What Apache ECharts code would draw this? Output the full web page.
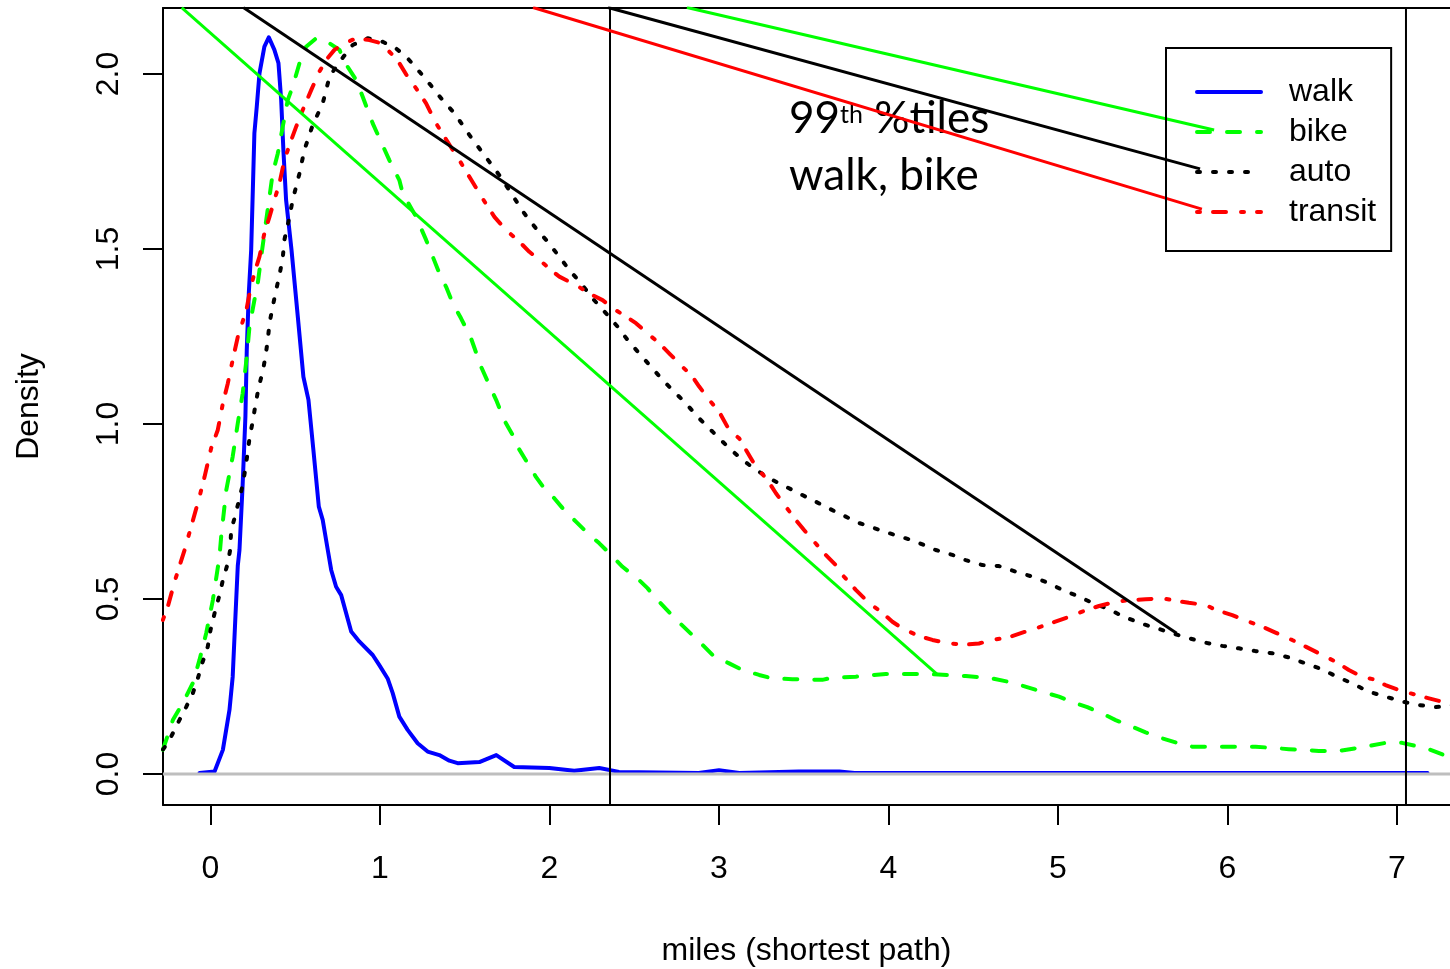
<!DOCTYPE html>
<html>
<head>
<meta charset="utf-8">
<title>Density of trip distance by mode</title>
<script src="https://cdn.jsdelivr.net/npm/echarts@6/dist/echarts.min.js"></script>
<style>
  html, body { margin: 0; padding: 0; background: #fff; }
  #chart { width: 1450px; height: 969px; }
</style>
</head>
<body>
<div id="chart"></div>
<script>
// axis ranges and ticks
const xRange = [-0.2802, 7.3127];
const yRange = [-0.0886, 2.1886];
const xTicks = [0, 1, 2, 3, 4, 5, 6, 7];
const yTicks = [0, 0.5, 1, 1.5, 2];

// density curves, [miles, density]
const walk = [[-0.065,0.003],[0.024,0.007],[0.073,0.069],[0.112,0.183],[0.131,0.278],[0.147,0.449],[0.161,0.595],[0.171,0.64],[0.19,0.83],[0.206,1.021],[0.214,1.211],[0.226,1.374],[0.24,1.497],[0.259,1.831],[0.273,1.907],[0.289,2.002],[0.318,2.078],[0.344,2.105],[0.377,2.069],[0.401,2.031],[0.417,1.926],[0.43,1.783],[0.446,1.64],[0.478,1.497],[0.515,1.307],[0.548,1.135],[0.578,1.069],[0.607,0.926],[0.639,0.764],[0.662,0.726],[0.692,0.64],[0.712,0.583],[0.741,0.535],[0.771,0.511],[0.83,0.407],[0.879,0.378],[0.957,0.34],[0.996,0.311],[1.045,0.273],[1.075,0.231],[1.114,0.164],[1.163,0.126],[1.222,0.088],[1.281,0.064],[1.35,0.054],[1.409,0.038],[1.458,0.031],[1.586,0.034],[1.686,0.054],[1.792,0.02],[1.999,0.017],[2.146,0.009],[2.294,0.017],[2.41,0.006],[2.88,0.003],[3.0,0.011],[3.12,0.003],[3.47,0.007],[3.71,0.007],[3.8,0.003],[7.18,0.003]];
const bike = [[-0.281,0.069],[-0.222,0.154],[-0.163,0.203],[-0.104,0.26],[-0.065,0.326],[-0.025,0.403],[0.014,0.497],[0.053,0.621],[0.063,0.678],[0.093,0.811],[0.131,0.907],[0.161,1.002],[0.19,1.088],[0.214,1.192],[0.23,1.278],[0.259,1.354],[0.279,1.402],[0.299,1.478],[0.367,1.716],[0.397,1.773],[0.426,1.849],[0.456,1.926],[0.485,1.964],[0.525,2.031],[0.564,2.078],[0.623,2.102],[0.672,2.097],[0.761,2.069],[0.79,2.035],[0.859,1.983],[0.898,1.935],[0.957,1.859],[1.055,1.754],[1.114,1.697],[1.134,1.659],[1.213,1.592],[1.272,1.526],[1.35,1.431],[1.39,1.392],[1.429,1.345],[1.478,1.302],[1.537,1.245],[1.596,1.164],[1.645,1.111],[1.685,1.069],[1.733,1.011],[1.782,0.969],[1.812,0.935],[1.871,0.888],[1.92,0.849],[1.969,0.816],[2.028,0.788],[2.087,0.754],[2.156,0.721],[2.225,0.688],[2.294,0.659],[2.353,0.631],[2.431,0.592],[2.529,0.554],[2.578,0.531],[2.628,0.502],[2.75,0.44],[2.903,0.369],[2.962,0.34],[3.06,0.316],[3.139,0.297],[3.237,0.283],[3.315,0.273],[3.433,0.271],[3.61,0.269],[3.669,0.275],[3.807,0.278],[3.984,0.286],[4.22,0.286],[4.456,0.28],[4.613,0.273],[4.731,0.261],[4.907,0.235],[5.006,0.221],[5.104,0.202],[5.173,0.191],[5.261,0.173],[5.34,0.154],[5.438,0.135],[5.517,0.119],[5.615,0.102],[5.703,0.089],[5.792,0.078],[5.989,0.078],[6.166,0.078],[6.362,0.071],[6.539,0.066],[6.657,0.066],[6.814,0.078],[6.932,0.089],[7.03,0.089],[7.129,0.078],[7.198,0.069],[7.305,0.049],[7.37,0.04]];
const auto = [[-0.28,0.07],[-0.242,0.097],[-0.193,0.145],[-0.143,0.192],[-0.104,0.231],[-0.075,0.273],[-0.049,0.316],[-0.016,0.364],[0,0.411],[0.024,0.459],[0.053,0.511],[0.073,0.554],[0.102,0.602],[0.116,0.64],[0.122,0.697],[0.147,0.74],[0.171,0.788],[0.19,0.826],[0.206,0.873],[0.22,0.921],[0.23,0.959],[0.249,1.007],[0.265,1.054],[0.285,1.107],[0.308,1.149],[0.324,1.192],[0.338,1.24],[0.348,1.288],[0.367,1.335],[0.383,1.373],[0.407,1.426],[0.426,1.473],[0.436,1.526],[0.466,1.592],[0.485,1.64],[0.525,1.716],[0.554,1.783],[0.603,1.854],[0.662,1.916],[0.702,1.992],[0.761,2.035],[0.839,2.083],[0.927,2.102],[1.016,2.092],[1.095,2.073],[1.163,2.045],[1.232,2.007],[1.291,1.973],[1.36,1.931],[1.439,1.888],[1.527,1.826],[1.704,1.711],[1.851,1.602],[1.92,1.559],[1.989,1.521],[2.058,1.478],[2.117,1.44],[2.186,1.402],[2.254,1.359],[2.343,1.311],[2.402,1.278],[2.461,1.24],[2.529,1.202],[2.598,1.164],[2.667,1.126],[2.736,1.092],[2.805,1.059],[2.873,1.021],[2.962,0.978],[3.06,0.931],[3.139,0.897],[3.218,0.869],[3.296,0.845],[3.394,0.821],[3.492,0.797],[3.591,0.773],[3.689,0.749],[3.827,0.717],[3.998,0.689],[4.151,0.666],[4.279,0.64],[4.377,0.626],[4.456,0.611],[4.554,0.597],[4.652,0.594],[4.751,0.578],[4.848,0.564],[4.947,0.545],[5.025,0.526],[5.124,0.507],[5.202,0.489],[5.301,0.471],[5.379,0.451],[5.497,0.429],[5.585,0.416],[5.674,0.402],[5.772,0.388],[5.871,0.375],[5.969,0.366],[6.067,0.359],[6.166,0.351],[6.264,0.345],[6.362,0.333],[6.461,0.316],[6.558,0.299],[6.637,0.28],[6.735,0.259],[6.834,0.235],[6.932,0.221],[7.03,0.207],[7.129,0.197],[7.227,0.191],[7.305,0.194],[7.37,0.2]];
const transit = [[-0.281,0.44],[-0.252,0.478],[-0.212,0.549],[-0.153,0.64],[-0.114,0.707],[-0.065,0.792],[-0.035,0.849],[0.004,0.931],[0.043,0.983],[0.073,1.059],[0.102,1.116],[0.131,1.183],[0.161,1.249],[0.187,1.288],[0.214,1.331],[0.234,1.383],[0.259,1.431],[0.289,1.478],[0.318,1.545],[0.348,1.592],[0.377,1.64],[0.407,1.688],[0.436,1.754],[0.476,1.811],[0.505,1.849],[0.544,1.897],[0.594,1.954],[0.643,2.007],[0.682,2.04],[0.731,2.069],[0.79,2.088],[0.859,2.102],[0.938,2.097],[1.006,2.088],[1.075,2.054],[1.114,2.031],[1.163,1.992],[1.213,1.959],[1.272,1.916],[1.331,1.859],[1.38,1.821],[1.429,1.783],[1.468,1.754],[1.539,1.697],[1.635,1.621],[1.675,1.592],[1.744,1.554],[1.822,1.521],[1.881,1.492],[1.94,1.469],[2.009,1.44],[2.058,1.421],[2.156,1.397],[2.235,1.373],[2.313,1.354],[2.372,1.331],[2.451,1.307],[2.51,1.288],[2.578,1.259],[2.647,1.231],[2.706,1.202],[2.765,1.173],[2.844,1.135],[2.883,1.107],[2.942,1.069],[3.001,1.035],[3.06,0.983],[3.119,0.959],[3.159,0.926],[3.218,0.878],[3.286,0.84],[3.336,0.802],[3.394,0.764],[3.453,0.726],[3.502,0.697],[3.561,0.664],[3.63,0.626],[3.689,0.597],[3.728,0.569],[3.807,0.526],[3.886,0.488],[3.955,0.464],[4.023,0.435],[4.082,0.416],[4.18,0.394],[4.259,0.383],[4.338,0.375],[4.436,0.369],[4.534,0.373],[4.613,0.383],[4.711,0.391],[4.81,0.407],[4.869,0.416],[4.966,0.432],[5.065,0.449],[5.143,0.464],[5.242,0.48],[5.34,0.492],[5.419,0.497],[5.517,0.499],[5.615,0.502],[5.674,0.497],[5.772,0.489],[5.871,0.483],[5.93,0.469],[6.028,0.454],[6.126,0.435],[6.205,0.421],[6.283,0.404],[6.381,0.383],[6.461,0.364],[6.539,0.345],[6.637,0.321],[6.716,0.297],[6.794,0.278],[6.874,0.269],[6.932,0.254],[7.011,0.24],[7.111,0.226],[7.189,0.216],[7.305,0.202],[7.37,0.195]];

// vertical marks (99th percentiles, walk and bike)
const percentiles99 = [2.357, 7.053];

// pointer segments from the note area down to the curves / legend
const pointerGreenLong = [[-0.17, 2.19], [4.284, 0.286]];
const pointerBlackLong = [[0.194, 2.19], [5.70, 0.402]];
const pointerGreenTop = [[2.811, 2.19], [5.921, 1.840]];
const pointerBlackTop = [[2.345, 2.19], [5.838, 1.729]];
const pointerRedTop = [[1.903, 2.19], [5.849, 1.614]];

const FONT = "'Liberation Sans', Arial, sans-serif";
const NOTE_FONT = "Lato, 'Open Sans', sans-serif";

// a curve series
function curve(name, data, color, dash, width) {
  return {
    name: name,
    type: 'line',
    data: data,
    symbol: 'none',
    showSymbol: false,
    smooth: false,
    clip: true,
    animation: false,
    silent: true,
    lineStyle: { color: color, width: width || 4, type: dash || 'solid', cap: 'round', join: 'round' },
    itemStyle: { color: color }
  };
}

// a straight segment series (not in legend)
function segment(id, data, color, width) {
  return {
    id: id,
    type: 'line',
    data: data,
    symbol: 'none',
    showSymbol: false,
    clip: true,
    animation: false,
    silent: true,
    lineStyle: { color: color, width: width, type: 'solid' }
  };
}

// outward R-style ticks (a fresh object for each axis)
function ticks(values) {
  return { show: true, inside: false, length: 20, customValues: values, lineStyle: { color: '#000', width: 2 } };
}

// plot box edge (a fresh object for each axis)
function boxLine() {
  return { show: true, onZero: false, lineStyle: { color: '#000', width: 2 } };
}

const chart = echarts.init(document.getElementById('chart'), null, { renderer: 'canvas' });

const series = [
  curve('walk', walk, '#0000ff'),
  curve('bike', bike, '#00ff00', [13, 17]),
  curve('auto', auto, '#000000', [3, 13]),
  curve('transit', transit, '#ff0000', [3, 13, 13, 15]),
  segment('zero', [[xRange[0], 0], [xRange[1], 0]], '#bebebe', 3)
];
percentiles99.forEach(function (v, i) {
  series.push(segment('p99_' + i, [[v, yRange[0] - 0.1], [v, yRange[1] + 0.1]], '#000', 2));
});
series.push(segment('pGreenLong', pointerGreenLong, '#00ff00', 3));
series.push(segment('pBlackLong', pointerBlackLong, '#000', 3));
series.push(segment('pGreenTop', pointerGreenTop, '#00ff00', 3));
series.push(segment('pBlackTop', pointerBlackTop, '#000', 3));
series.push(segment('pRedTop', pointerRedTop, '#ff0000', 3));

const option = {
  backgroundColor: '#fff',
  animation: false,
  grid: {
    left: 163,
    top: 8,
    right: 0,
    height: 797,
    show: false,
    containLabel: false,
    outerBoundsMode: 'none'
  },
  legend: {
    data: ['walk', 'bike', 'auto', 'transit'],
    orient: 'vertical',
    left: 1166,
    top: 48,
    itemWidth: 64,
    itemHeight: 14,
    itemGap: 8,
    padding: [28, 15, 23, 29],
    borderColor: '#000',
    borderWidth: 2,
    selectedMode: false,
    itemStyle: { opacity: 0 },
    lineStyle: { width: 4 },
    textStyle: { fontFamily: FONT, fontSize: 32, color: '#000', lineHeight: 32, padding: [0, 0, 0, 23] }
  },
  xAxis: [
    {
      type: 'value',
      position: 'bottom',
      min: xRange[0],
      max: xRange[1],
      name: 'miles (shortest path)',
      nameLocation: 'middle',
      nameGap: 130,
      nameTextStyle: { fontFamily: FONT, fontSize: 32, color: '#000' },
      axisLine: boxLine(),
      axisTick: ticks(xTicks),
      axisLabel: { customValues: xTicks, fontFamily: FONT, fontSize: 32, color: '#000', margin: 48 },
      splitLine: { show: false }
    },
    {
      // top edge of the plot box
      type: 'value',
      position: 'top',
      min: xRange[0],
      max: xRange[1],
      axisLine: boxLine(),
      axisTick: { show: false },
      axisLabel: { show: false },
      splitLine: { show: false }
    }
  ],
  yAxis: {
    type: 'value',
    min: yRange[0],
    max: yRange[1],
    name: 'Density',
    nameLocation: 'middle',
    nameGap: 118,
    nameTextStyle: { fontFamily: FONT, fontSize: 32, color: '#000' },
    axisLine: boxLine(),
    axisTick: ticks(yTicks),
    axisLabel: {
      customValues: yTicks,
      rotate: 90,
      fontFamily: FONT,
      fontSize: 32,
      color: '#000',
      margin: 38,
      formatter: function (v) { return v.toFixed(1); }
    },
    splitLine: { show: false }
  },
  // note text inside the plot
  graphic: [
    {
      type: 'text',
      x: 789,
      y: 119,
      z: 0,
      style: {
        text: '{a|99}{s|th}{a| %tiles}',
        verticalAlign: 'middle',
        rich: {
          a: { fontFamily: NOTE_FONT, fontSize: 44, fill: '#000', lineHeight: 34 },
          s: { fontFamily: NOTE_FONT, fontSize: 25, fill: '#000', lineHeight: 24, verticalAlign: 'top' }
        }
      }
    },
    {
      type: 'text',
      x: 789,
      y: 176,
      z: 0,
      style: { text: 'walk, bike', font: '44px ' + NOTE_FONT, fill: '#000', verticalAlign: 'middle' }
    }
  ],
  series: series
};

chart.setOption(option);
</script>
</body>
</html>
